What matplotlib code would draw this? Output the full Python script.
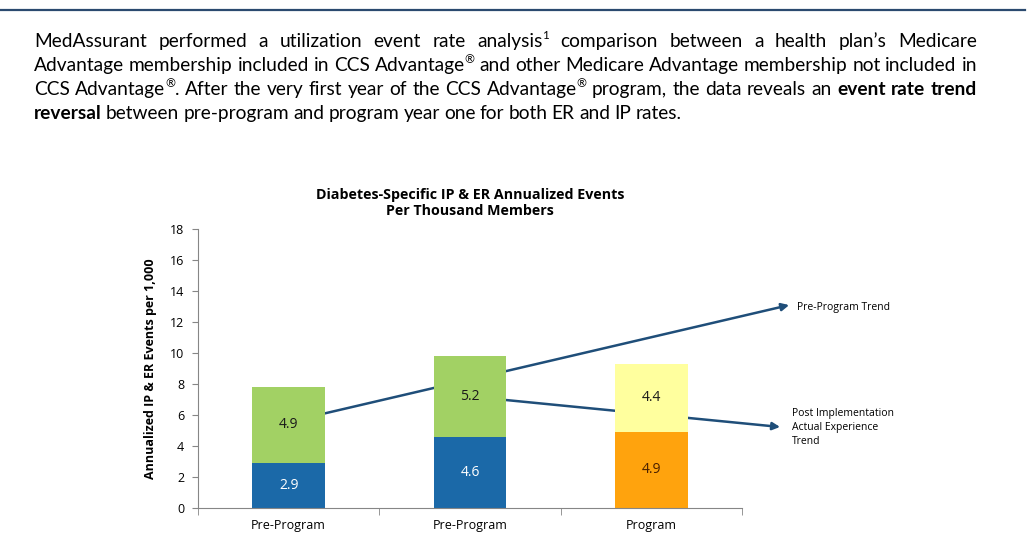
import matplotlib
matplotlib.use("Agg")
import matplotlib.pyplot as plt

W, H = 1027, 539

# ===== data =====
categories = ["Pre-Program", "Pre-Program", "Program"]
base_vals = [2.9, 4.6, 4.9]
top_vals = [4.9, 5.2, 4.4]
base_colors = ["#1B69A8", "#1B69A8", "#FFA30D"]
top_colors = ["#A2D164", "#A2D164", "#FFFF9E"]
base_text_colors = ["white", "white", "#4A2000"]

pre_trend = [(0.2, 6.1), (2.76, 13.1)]
post_trend = [(1.2, 6.96), (2.71, 5.22)]

paragraph = [
    ("MedAssurant performed a utilization event rate analysis\u00b9 comparison between a health plan\u2019s Medicare", "", True),
    ("Advantage membership included in CCS Advantage\u00ae and other Medicare Advantage membership not included in", "", True),
    ("CCS Advantage\u00ae. After the very first year of the CCS Advantage\u00ae program, the data reveals an", "event rate trend", True),
    ("", "reversal", False),
]
line4_rest = "between pre-program and program year one for both ER and IP rates."

chart_font = "Open Sans"
text_font = "Lato"
navy = "#1F4E79"

fig = plt.figure(figsize=(W / 100, H / 100), dpi=100)
fig.patch.set_facecolor("white")

# top rule
fig.add_artist(plt.Line2D([0, 1025 / W], [1 - 9.5 / H, 1 - 9.5 / H],
                          color="#2B4A6F", lw=1.6))

# ===== justified paragraph =====
renderer = fig.canvas.get_renderer()
left, right = 34, 977
baselines = [47, 71, 95, 119]
fs = 13.8
sup_marks = "\u00ae\u00b9"


def segments(word):
    # split a word so that ® / ¹ are drawn small and raised
    segs, cur = [], ""
    for ch in word:
        if ch in sup_marks:
            if cur:
                segs.append((cur, False))
                cur = ""
            segs.append((ch, True))
        else:
            cur += ch
    if cur:
        segs.append((cur, False))
    return segs


def make_word(word, weight, y):
    arts = []
    for s, sup in segments(word):
        size = fs * 0.62 if sup else fs
        if s == "\u00b9":
            s, size = "1", fs * 0.6
        yy = y + (fs * 0.42 / 72 * 100 / H if sup else 0)
        t = fig.text(0, yy, s, fontsize=size, family=text_font,
                     fontweight=weight, va="baseline", ha="left", color="black")
        arts.append(t)
    wds = [t.get_window_extent(renderer).width for t in arts]
    return arts, wds


for i, line in enumerate(paragraph):
    ws = [(w, "normal") for w in line[0].split()]
    ws += [(w, "bold") for w in line[1].split()]
    if i == 3:
        ws += [(w, "normal") for w in line4_rest.split()]
    y = 1 - baselines[i] / H
    words = [make_word(w, wt, y) for w, wt in ws]
    widths = [sum(wd) for _, wd in words]
    if line[2]:
        gap = (right - left - sum(widths)) / (len(words) - 1)
    else:
        gap = fs * 100 / 72 * 0.22
    x = left
    for (arts, wds), wtot in zip(words, widths):
        xx = x
        for a, wd in zip(arts, wds):
            a.set_x(xx / W)
            xx += wd
        x += wtot + gap

# ===== chart =====
ax = fig.add_axes([198 / W, 1 - 507.7 / H, (742 - 198) / W, (507.7 - 229.3) / H])
x = list(range(len(categories)))
ax.bar(x, base_vals, width=0.4, color=base_colors, zorder=2)
ax.bar(x, top_vals, width=0.4, bottom=base_vals, color=top_colors, zorder=2)

for xi, b, t, tc in zip(x, base_vals, top_vals, base_text_colors):
    ax.text(xi, b / 2, f"{b:.1f}", ha="center", va="center", fontsize=10,
            color=tc, family=chart_font, zorder=3)
    ax.text(xi, b + t / 2, f"{t:.1f}", ha="center", va="center", fontsize=10,
            color="#1a1a1a", family=chart_font, zorder=3)

for pts in (pre_trend, post_trend):
    ax.annotate("", xy=pts[1], xytext=pts[0], annotation_clip=False,
                arrowprops=dict(arrowstyle="-|>", color=navy, lw=1.8,
                                mutation_scale=11, shrinkA=0, shrinkB=0),
                zorder=1)

ax.text(2.806, 12.97, "Pre-Program Trend", fontsize=7.5, family=chart_font,
        va="center", ha="left", clip_on=False)
ax.text(2.775, 5.2, "Post Implementation\nActual Experience\nTrend", fontsize=7.5,
        family=chart_font, va="center", ha="left", linespacing=1.35, clip_on=False)

ax.set_xlim(-0.5, 2.5)
ax.set_ylim(0, 18)
ax.set_yticks(range(0, 19, 2))
ax.set_xticks(x)
ax.set_xticklabels(categories, family=chart_font, fontsize=9)
ax.set_xticks([-0.5, 0.5, 1.5, 2.5], minor=True)
ax.tick_params(axis="x", which="major", length=0, pad=8)
ax.tick_params(axis="x", which="minor", length=5, color="#868686")
ax.tick_params(axis="y", length=4, color="#868686", labelsize=9, pad=6)
for lb in ax.get_yticklabels():
    lb.set_family(chart_font)
for s in ("top", "right"):
    ax.spines[s].set_visible(False)
for s in ("left", "bottom"):
    ax.spines[s].set_color("#868686")

ax.set_ylabel("Annualized IP & ER Events per 1,000", family=chart_font,
              fontweight="bold", fontsize=9, labelpad=9)
ax.set_title("Diabetes-Specific IP & ER Annualized Events\nPer Thousand Members",
             family=chart_font, fontweight="bold", fontsize=10.3, pad=10)

fig.savefig("out.png", dpi=100)
